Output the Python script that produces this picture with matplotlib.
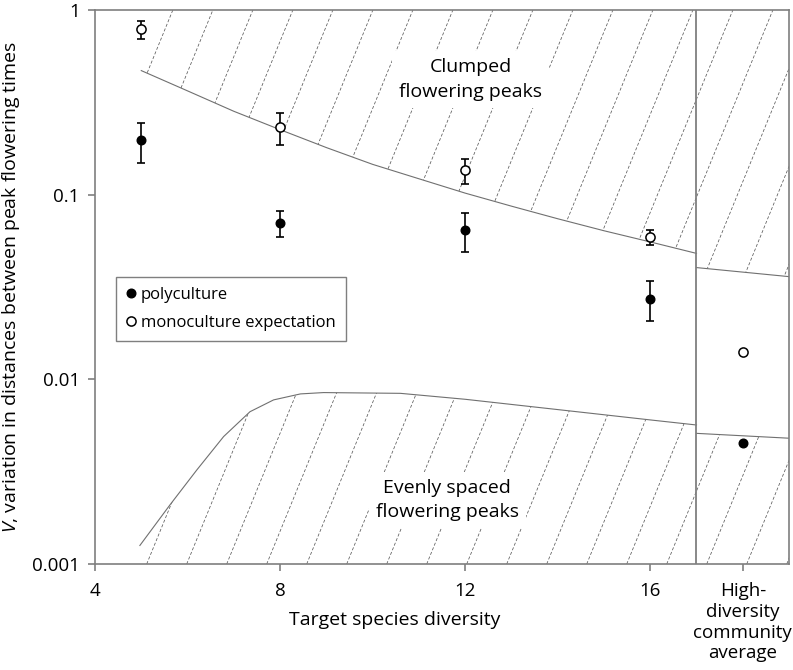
import numpy as np
import matplotlib
matplotlib.use("Agg")
import matplotlib.pyplot as plt
from matplotlib.patches import Polygon

plt.rcParams['font.family'] = ['Open Sans', 'DejaVu Sans']
plt.rcParams['mathtext.fontset'] = 'custom'
plt.rcParams['mathtext.rm'] = 'Open Sans'
plt.rcParams['mathtext.it'] = 'Open Sans:italic'

# data
diversity = [5, 8, 12, 16]
poly = [0.198, 0.0705, 0.0644, 0.0272]
poly_lo = [0.148, 0.0593, 0.0488, 0.0207]
poly_hi = [0.245, 0.0816, 0.080, 0.0341]
mono = [0.786, 0.233, 0.136, 0.059]
mono_lo = [0.70, 0.187, 0.114, 0.0534]
mono_hi = [0.87, 0.277, 0.157, 0.064]

highdiv_x = 18
highdiv_poly = 0.00451
highdiv_mono = 0.014

# clumped boundary (upper) and evenly spaced boundary (lower)
upper_x = [5, 6, 7, 8, 9, 10, 11, 12, 13, 14, 15, 16, 17]
upper_y = [0.470, 0.365, 0.283, 0.225, 0.180, 0.146, 0.122, 0.102, 0.0867,
           0.0741, 0.0638, 0.0555, 0.0481]
lower_x = [4.97, 5.62, 6.20, 6.78, 7.35, 7.86, 8.44, 8.94, 10.6, 12, 14, 16, 17]
lower_y = [0.00126, 0.00209, 0.00323, 0.00490, 0.00668, 0.00774, 0.00834,
           0.00848, 0.0084, 0.0078, 0.00686, 0.00603, 0.00566]
right_x = [17, 19]
right_upper = [0.0403, 0.036]
right_lower = [0.0051, 0.0048]

xticks = [4, 8, 12, 16, 18]
xticklabels = ['4', '8', '12', '16', 'High-\ndiversity\ncommunity\naverage']
yticks = [0.001, 0.01, 0.1, 1]
yticklabels = ['0.001', '0.01', '0.1', '1']

fig = plt.figure(figsize=(7.93, 6.70), dpi=100)
ax = fig.add_axes([0.1198, 0.1582, 0.8752, 0.8268])
ax.set_yscale('log')
ax.set_xlim(4, 19)
ax.set_ylim(0.001, 1)

edge = '#7f7f7f'
lcol = '#707070'


def hatch_region(xs, ys):
    poly_patch = Polygon(np.column_stack([xs, ys]), closed=True,
                         facecolor='none', edgecolor='none',
                         transform=ax.transData)
    ax.add_patch(poly_patch)
    w = 694.0
    h = 554.0
    slope = 2.45
    run = (h / slope) / w
    step = 40.0 / w
    start = (146.7 - 95) / w
    for k in range(-12, 20):
        x0 = start + k * step
        ln, = ax.plot([x0, x0 + run], [0, 1], transform=ax.transAxes,
                      color='#5a5a5a', lw=0.55, ls=(0, (4, 2.5)), zorder=1)
        ln.set_clip_path(poly_patch)


# upper hatched regions
hatch_region(upper_x + [17, 5], upper_y + [1, 1])
hatch_region(right_x + [19, 17], right_upper + [1, 1])
# lower hatched regions
hatch_region(lower_x + [17, 4.97], lower_y + [0.001, 0.001])
hatch_region(right_x + [19, 17], right_lower + [0.001, 0.001])

ax.plot(upper_x, upper_y, color=lcol, lw=0.8, zorder=2)
ax.plot(lower_x, lower_y, color=lcol, lw=0.8, zorder=2)
ax.plot(right_x, right_upper, color=lcol, lw=0.8, zorder=2)
ax.plot(right_x, right_lower, color=lcol, lw=0.8, zorder=2)

ax.axvline(17, color=edge, lw=1.3, zorder=3)

# error bars
p = np.array(poly)
m = np.array(mono)
ax.errorbar(diversity, poly,
            yerr=[p - np.array(poly_lo), np.array(poly_hi) - p],
            fmt='none', ecolor='black', elinewidth=1.2, capsize=3, capthick=1.2, zorder=4)
ax.errorbar(diversity, mono,
            yerr=[m - np.array(mono_lo), np.array(mono_hi) - m],
            fmt='none', ecolor='black', elinewidth=1.2, capsize=3, capthick=1.2, zorder=4)

ax.plot(diversity + [highdiv_x], poly + [highdiv_poly], 'o', color='black',
        ms=6.2, zorder=5, label='polyculture')
ax.plot(diversity + [highdiv_x], mono + [highdiv_mono], 'o', mfc='white',
        mec='black', mew=1.1, ms=6.6, zorder=5, label='monoculture expectation')

box = dict(facecolor='white', edgecolor='none', pad=5)
ax.text(12.12, 0.42, 'Clumped\nflowering peaks', ha='center', va='center',
        fontsize=14, linespacing=1.45, bbox=box, zorder=3)
ax.text(11.61, 0.00222, 'Evenly spaced\nflowering peaks', ha='center',
        va='center', fontsize=14, linespacing=1.45, bbox=box, zorder=3)

leg = ax.legend(loc='upper left', bbox_to_anchor=(0.030, 0.518),
                borderaxespad=0, fancybox=False, edgecolor=edge,
                framealpha=1, fontsize=12, handlelength=0.6,
                handletextpad=0.3, borderpad=0.6, labelspacing=0.7)
leg.get_frame().set_linewidth(1.0)

ax.set_xticks(xticks)
ax.set_xticklabels(xticklabels, fontsize=13.5, linespacing=1.2, va='top')
ax.set_yticks(yticks)
ax.set_yticklabels(yticklabels, fontsize=13.5)
ax.minorticks_off()
ax.tick_params(direction='out', length=5, color=edge, width=1.2)
ax.tick_params(axis='x', pad=8)
ax.tick_params(axis='y', pad=6)

for s in ax.spines.values():
    s.set_color(edge)
    s.set_linewidth(1.2)

ax.set_xlabel('Target species diversity', fontsize=14, va='center')
ax.xaxis.set_label_coords(0.432, -0.101)
ax.set_ylabel('$V$, variation in distances between peak flowering times',
              fontsize=14, va='center')
ax.yaxis.set_label_coords(-0.121, 0.5)

fig.savefig('out.png', dpi=100)
